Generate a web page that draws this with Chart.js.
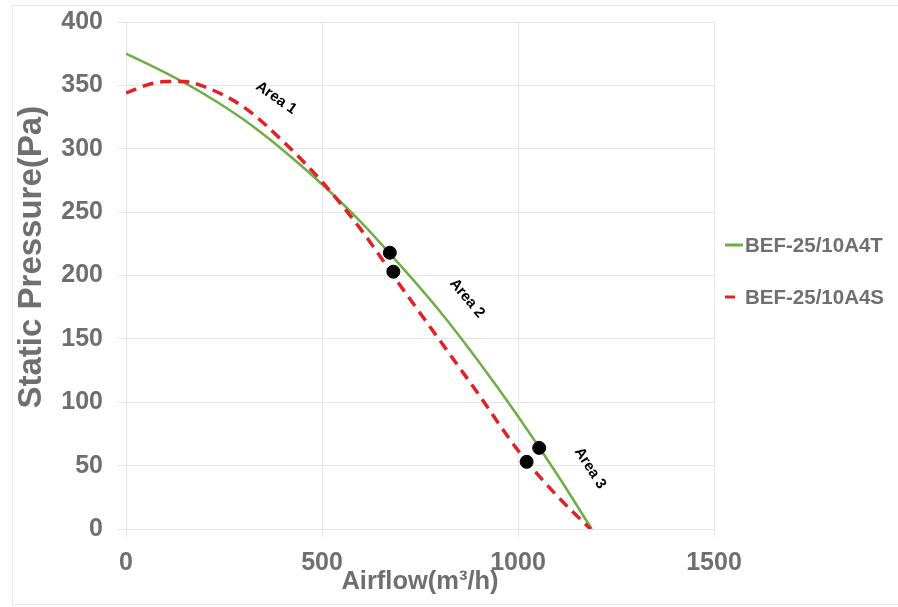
<!DOCTYPE html>
<html>
<head>
<meta charset="utf-8">
<script src="https://cdn.jsdelivr.net/npm/chart.js@4"></script>
<style>
  html, body { margin: 0; padding: 0; background: #fff; }
  #wrap { width: 898px; height: 607px; }
</style>
</head>
<body>
<div id="wrap"><canvas id="fanChart"></canvas></div>
<script>
// fan curves
const airflowT = [0, 100, 200, 300, 400, 500, 600, 700, 800, 900, 1000, 1100, 1188];
const pressureT = [375, 360, 343, 323, 299, 272, 242, 208, 172, 132, 89, 43, 0];

const airflowS = [0, 50, 100, 150, 200, 300, 400, 500, 600, 700, 800, 900, 1000, 1100, 1185];
const pressureS = [344, 350, 353, 353, 349, 333, 306, 274, 236, 192, 149, 106, 62, 26, 0];

const dotX = [673, 682, 1022, 1054];
const dotY = [218, 203, 53, 64];

const seriesNames = ['BEF-25/10A4T', 'BEF-25/10A4S'];
const xTicks = [0, 500, 1000, 1500];
const yTicks = [0, 50, 100, 150, 200, 250, 300, 350, 400];

const areaNames = ['Area 1', 'Area 2', 'Area 3'];
const areaX = [383, 870, 1184];
const areaY = [340, 182, 48];

const GREEN = '#70ad47';
const RED = '#e42027';
const GREY = '#6f6f6f';
const GRID = '#e6e6e6';
const FONT = "'Liberation Sans', Arial, sans-serif";

const toPts = (xs, ys) => xs.map((x, i) => ({ x, y: ys[i] }));

// light frame around the whole picture
const framePlugin = {
  id: 'frame',
  beforeDraw(chart) {
    const { ctx } = chart;
    ctx.save();
    ctx.strokeStyle = '#e8e8e8';
    ctx.lineWidth = 1;
    ctx.strokeRect(12.5, 5.5, 900, 599);
    ctx.restore();
  },
};

// "Area n" notes along the curves
const areaPlugin = {
  id: 'areas',
  afterDatasetsDraw(chart) {
    const { ctx, scales } = chart;
    const angles = [35, 50, 57];
    ctx.save();
    ctx.fillStyle = '#000';
    ctx.font = `bold 15px ${FONT}`;
    ctx.textAlign = 'center';
    ctx.textBaseline = 'middle';
    areaNames.forEach((name, i) => {
      const px = scales.x.getPixelForValue(areaX[i]);
      const py = scales.y.getPixelForValue(areaY[i]);
      ctx.save();
      ctx.translate(px, py);
      ctx.rotate((angles[i] * Math.PI) / 180);
      ctx.fillText(name, 0, 0);
      ctx.restore();
    });
    ctx.restore();
  },
};

// legend to the right of the plot
const sideLegend = {
  id: 'sideLegend',
  afterDraw(chart) {
    const { ctx } = chart;
    const rows = [245, 297];
    ctx.save();
    ctx.font = `bold 20.5px ${FONT}`;
    ctx.textBaseline = 'middle';
    ctx.fillStyle = GREY;
    chart.data.datasets.slice(0, 2).forEach((ds, i) => {
      const y = rows[i];
      ctx.beginPath();
      ctx.strokeStyle = ds.borderColor;
      ctx.lineWidth = 3;
      ctx.setLineDash([]);
      ctx.moveTo(725, y);
      ctx.lineTo(i === 0 ? 743 : 735, y);
      ctx.stroke();
      ctx.fillText(ds.label, 745, y + 1);
    });
    ctx.restore();
  },
};

new Chart(document.getElementById('fanChart'), {
  type: 'line',
  data: {
    datasets: [
      {
        label: seriesNames[0],
        data: toPts(airflowT, pressureT),
        borderColor: GREEN,
        borderWidth: 2.5,
        pointRadius: 0,
        cubicInterpolationMode: 'monotone',
        order: 2,
      },
      {
        label: seriesNames[1],
        data: toPts(airflowS, pressureS),
        borderColor: RED,
        borderWidth: 3.5,
        borderDash: [11, 7],
        pointRadius: 0,
        cubicInterpolationMode: 'monotone',
        order: 1,
      },
      {
        label: 'points',
        data: toPts(dotX, dotY),
        showLine: false,
        pointRadius: 6.5,
        pointBackgroundColor: '#000',
        pointBorderColor: '#000',
        order: 0,
      },
    ],
  },
  options: {
    responsive: true,
    maintainAspectRatio: false,
    animation: false,
    layout: { padding: { top: 22, right: 184, bottom: 0, left: 0 } },
    plugins: {
      legend: { display: false },
      tooltip: { enabled: false },
    },
    scales: {
      x: {
        type: 'linear',
        min: 0,
        max: 1500,
        afterBuildTicks: (s) => { s.ticks = xTicks.map((v) => ({ value: v })); },
        afterFit: (s) => { s.height = 78; },
        grid: { color: GRID, tickLength: 8 },
        border: { color: GRID },
        ticks: {
          padding: 11,
          color: GREY,
          font: { family: FONT, size: 25, weight: 'bold' },
          callback: (v) => String(v),
        },
        title: {
          display: true,
          text: 'Airflow(m³/h)',
          color: GREY,
          font: { family: FONT, size: 25.5, weight: 'bold' },
          padding: { top: 0, bottom: 10 },
        },
      },
      y: {
        min: 0,
        max: 400,
        afterBuildTicks: (s) => { s.ticks = yTicks.map((v) => ({ value: v })); },
        afterFit: (s) => {
          s.width = 126;
          s.paddingTop = 0;
          s.paddingBottom = 0;
        },
        grid: { color: GRID, tickLength: 8 },
        border: { color: GRID },
        ticks: {
          padding: 15,
          color: GREY,
          font: { family: FONT, size: 25, weight: 'bold' },
          callback: (v) => String(v),
        },
        title: {
          display: true,
          text: '    Static Pressure(Pa)',
          color: GREY,
          font: { family: FONT, size: 33, weight: 'bold' },
          padding: { top: 12, bottom: 0 },
        },
      },
    },
  },
  plugins: [framePlugin, areaPlugin, sideLegend],
});
</script>
</body>
</html>
